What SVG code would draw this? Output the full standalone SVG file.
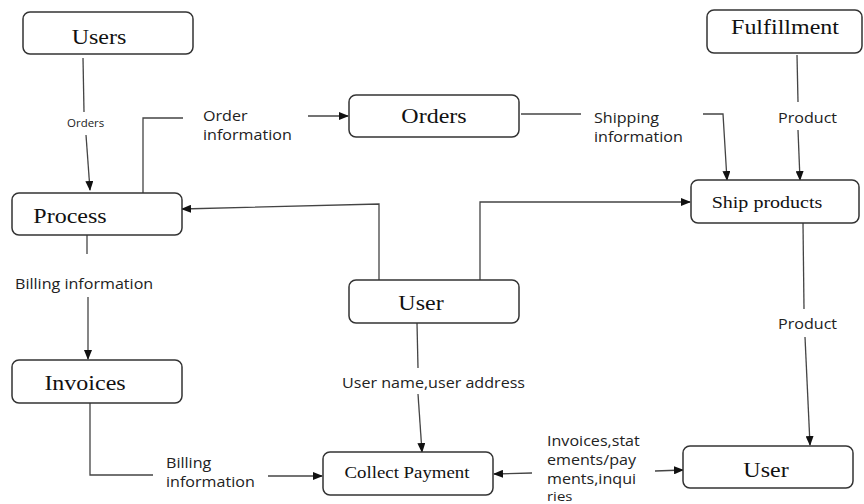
<svg xmlns="http://www.w3.org/2000/svg" width="864" height="504" viewBox="0 0 864 504">
<defs>
<marker id="arr" markerUnits="userSpaceOnUse" markerWidth="10" markerHeight="8" refX="9" refY="4" orient="auto">
<path d="M0,0 L10,4 L0,8 Z" fill="#111"/>
</marker>
<style>
.box{fill:#fff;stroke:#333;stroke-width:1.5}
.nt{font-family:"Liberation Serif","Times New Roman",serif;font-size:20px;fill:#111;text-anchor:middle}
.lb{font-family:"Open Sans","Noto Sans",sans-serif;font-size:14px;fill:#222}
.ln{fill:none;stroke:#444;stroke-width:1.3}
.ar{marker-end:url(#arr)}
</style>
</defs>
<rect width="864" height="504" fill="#fff"/>
<g id="connectors">
<line class="ln" x1="83" y1="58" x2="84" y2="112"/>
<line class="ln ar" x1="86" y1="135" x2="90" y2="190"/>
<polyline class="ln" points="143,193 143,118 183,118"/>
<line class="ln ar" x1="308" y1="116" x2="348" y2="116"/>
<line class="ln" x1="521" y1="114" x2="581" y2="114"/>
<polyline class="ln ar" points="703,114 723,114 727,180"/>
<line class="ln" x1="797" y1="55" x2="798" y2="102"/>
<line class="ln ar" x1="798" y1="130" x2="800" y2="180"/>
<polyline class="ln ar" points="379,280 379,204 182,209"/>
<polyline class="ln ar" points="480,280 480,202 690,202"/>
<line class="ln" x1="417" y1="323" x2="418" y2="368"/>
<line class="ln ar" x1="418" y1="394" x2="422" y2="452"/>
<line class="ln" x1="87" y1="235" x2="87" y2="254"/>
<line class="ln ar" x1="88" y1="297" x2="88" y2="359"/>
<polyline class="ln" points="90,403 90,475 153,475"/>
<line class="ln ar" x1="268" y1="476" x2="322" y2="476"/>
<line class="ln" x1="803" y1="223" x2="804" y2="309"/>
<line class="ln ar" x1="805" y1="337" x2="810" y2="445"/>
<line class="ln ar" x1="532" y1="473" x2="494" y2="474"/>
<line class="ln ar" x1="655" y1="471" x2="683" y2="470"/>
</g>
<g id="labels">
<text class="lb" transform="translate(67,127) scale(1.15,1)" style="font-size:10px">Orders</text>
<text class="lb" transform="translate(203,121) scale(1.15,1)">Order</text>
<text class="lb" transform="translate(203,140) scale(1.15,1)">information</text>
<text class="lb" transform="translate(594,123) scale(1.15,1)">Shipping</text>
<text class="lb" transform="translate(594,142) scale(1.15,1)">information</text>
<text class="lb" transform="translate(778,123) scale(1.15,1)">Product</text>
<text class="lb" transform="translate(15,289) scale(1.15,1)">Billing information</text>
<text class="lb" transform="translate(778,329) scale(1.15,1)">Product</text>
<text class="lb" transform="translate(342,388) scale(1.15,1)">User name,user address</text>
<text class="lb" transform="translate(166,468) scale(1.15,1)">Billing</text>
<text class="lb" transform="translate(166,487) scale(1.15,1)">information</text>
<text class="lb" transform="translate(547,446) scale(1.15,1)">Invoices,stat</text>
<text class="lb" transform="translate(547,465) scale(1.15,1)">ements/pay</text>
<text class="lb" transform="translate(547,484) scale(1.15,1)">ments,inqui</text>
<text class="lb" transform="translate(547,501) scale(1.15,1)" style="font-size:13px">ries</text>
</g>
<g id="users">
<rect class="box" x="23" y="12" width="170" height="42" rx="7"/>
<text class="nt" transform="translate(99,44) scale(1.2,1)">Users</text>
</g>
<g id="process">
<rect class="box" x="12" y="193" width="170" height="42" rx="7"/>
<text class="nt" transform="translate(70,223) scale(1.2,1)">Process</text>
</g>
<g id="orders">
<rect class="box" x="349" y="95" width="170" height="42" rx="7"/>
<text class="nt" transform="translate(434,123) scale(1.2,1)">Orders</text>
</g>
<g id="fulfillment">
<rect class="box" x="707" y="10" width="155" height="43" rx="7"/>
<text class="nt" transform="translate(785,34) scale(1.2,1)">Fulfillment</text>
</g>
<g id="ship-products">
<rect class="box" x="691" y="180" width="168" height="43" rx="7"/>
<text class="nt" transform="translate(767,208) scale(1.2,1)" style="font-size:16.7px">Ship products</text>
</g>
<g id="user-mid">
<rect class="box" x="349" y="280" width="170" height="43" rx="7"/>
<text class="nt" transform="translate(421,310) scale(1.2,1)">User</text>
</g>
<g id="invoices">
<rect class="box" x="12" y="360" width="170" height="43" rx="7"/>
<text class="nt" transform="translate(85,390) scale(1.2,1)">Invoices</text>
</g>
<g id="collect-payment">
<rect class="box" x="323" y="452" width="170" height="43" rx="7"/>
<text class="nt" transform="translate(407,478) scale(1.2,1)" style="font-size:15.7px">Collect Payment</text>
</g>
<g id="user-right">
<rect class="box" x="683" y="446" width="170" height="42" rx="7"/>
<text class="nt" transform="translate(766,477) scale(1.2,1)">User</text>
</g>
</svg>
